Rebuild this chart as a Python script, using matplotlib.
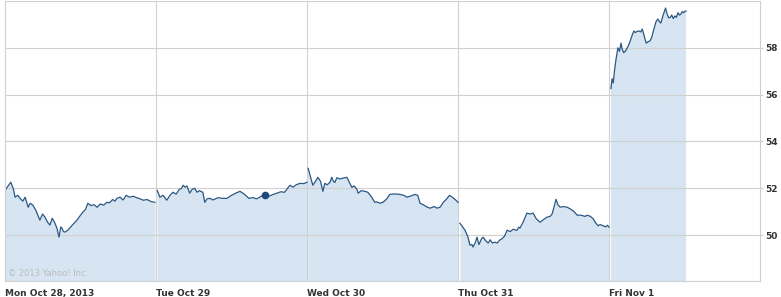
import matplotlib
matplotlib.use("Agg")
import matplotlib.pyplot as plt
import numpy as np

# --- data: minutes since 9:30 open, price ---
days = ["Mon Oct 28, 2013", "Tue Oct 29", "Wed Oct 30", "Thu Oct 31", "Fri Nov 1"]

mon_min = [0, 8, 15, 22, 26, 33, 39, 46, 52, 60, 65, 72, 80, 90, 97, 103, 110, 116, 122, 129, 134, 139.5,
           144, 147, 151, 155, 163, 175, 186, 195, 201, 208, 214, 222, 230, 238, 246, 255, 263, 270, 278, 284,
           289, 297, 305, 313, 322, 331, 340, 349, 357, 367, 378, 387]
mon_px = [51.91, 52.10, 52.26, 51.95, 51.62, 51.70, 51.57, 51.45, 51.62, 51.19, 51.36, 51.28, 51.05, 50.64,
          50.90, 50.77, 50.55, 50.43, 50.72, 50.51, 50.30, 49.91, 50.35, 50.30, 50.15, 50.13, 50.22, 50.45,
          50.64, 50.85, 50.98, 51.10, 51.36, 51.26, 51.30, 51.19, 51.33, 51.28, 51.40, 51.38, 51.52, 51.45,
          51.57, 51.62, 51.50, 51.70, 51.62, 51.66, 51.60, 51.55, 51.49, 51.52, 51.43, 51.40]

tue_min = [3, 10, 18, 28, 36, 44, 52, 60, 66, 70, 75, 80, 87, 93, 100, 106, 112, 121, 126, 132, 140, 147,
           160, 172, 183, 195, 207, 217, 228, 240, 250, 260, 268, 276, 282, 290, 300, 312, 322, 332, 340, 346,
           354, 362, 372, 382, 390]
tue_px = [51.91, 51.62, 51.70, 51.49, 51.70, 51.83, 51.75, 51.95, 52.00, 52.13, 52.05, 52.10, 51.79, 51.95,
          52.00, 51.83, 51.90, 51.83, 51.40, 51.55, 51.57, 51.50, 51.60, 51.57, 51.57, 51.70, 51.80, 51.87,
          51.75, 51.57, 51.60, 51.55, 51.62, 51.70, 51.70, 51.65, 51.72, 51.79, 51.85, 51.83, 52.00, 52.13,
          52.05, 52.15, 52.21, 52.20, 52.26]

wed_min = [3, 8, 15, 22, 28, 35, 41, 46, 52, 59, 64, 68, 72, 77, 85, 95, 103, 108, 116, 122, 129, 132, 140,
           150, 157, 166, 175, 181, 188, 196, 206, 214, 225, 240, 250, 258, 266, 279, 286, 292, 300, 310, 318,
           328, 336, 344, 352, 361, 368, 377, 384, 390]
wed_px = [52.85, 52.55, 52.13, 52.30, 52.47, 52.30, 51.87, 52.21, 52.15, 52.25, 52.47, 52.30, 52.25, 52.45,
          52.40, 52.44, 52.47, 52.30, 52.04, 52.10, 51.95, 51.79, 51.90, 51.87, 51.83, 51.65, 51.40, 51.42,
          51.36, 51.40, 51.55, 51.74, 51.76, 51.74, 51.70, 51.62, 51.66, 51.74, 51.70, 51.36, 51.30, 51.20,
          51.15, 51.22, 51.15, 51.20, 51.40, 51.55, 51.70, 51.60, 51.50, 51.40]

thu_min = [5, 12, 18, 25, 31, 36, 39, 44, 49, 54, 57, 61, 65, 72, 78, 83, 89, 95, 101, 108, 114, 120, 127,
           135, 142, 152, 157, 160, 168, 178, 186, 194, 202, 212, 220, 230, 238, 243, 248, 253, 258, 264, 272,
           282, 292, 300, 308, 318, 328, 334, 342, 349, 356, 362, 367, 375, 381, 386, 390]
thu_px = [50.51, 50.35, 50.21, 49.95, 49.57, 49.60, 49.49, 49.65, 49.91, 49.60, 49.70, 49.85, 49.91, 49.75,
          49.66, 49.80, 49.66, 49.70, 49.66, 49.79, 49.85, 49.95, 50.21, 50.15, 50.25, 50.20, 50.34, 50.30,
          50.55, 50.94, 50.90, 50.94, 50.70, 50.55, 50.65, 50.77, 50.80, 50.90, 51.20, 51.53, 51.30, 51.19,
          51.22, 51.19, 51.10, 51.00, 50.85, 50.85, 50.80, 50.85, 50.80, 50.70, 50.51, 50.40, 50.45, 50.40,
          50.35, 50.42, 50.34]

fri_min = [5, 8, 11, 14, 18, 23, 27, 31, 34, 38, 44, 50, 55, 59, 64, 68, 72, 77, 82, 86, 91, 96, 100, 106,
           110, 116, 121, 126, 131, 134, 138, 142, 146, 150, 154, 158, 162, 166, 170, 174, 178, 182, 186, 189,
           193, 197, 199]
fri_px = [56.26, 56.68, 56.50, 57.00, 57.50, 58.00, 57.85, 58.20, 57.95, 57.79, 57.90, 58.09, 58.30, 58.50,
          58.72, 58.65, 58.70, 58.72, 58.68, 58.80, 58.50, 58.20, 58.25, 58.30, 58.43, 58.80, 59.10, 59.23,
          59.10, 59.06, 59.30, 59.50, 59.70, 59.45, 59.28, 59.30, 59.40, 59.25, 59.36, 59.30, 59.50, 59.40,
          59.45, 59.55, 59.50, 59.57, 59.57]

day_minutes = [mon_min, tue_min, wed_min, thu_min, fri_min]
day_prices = [mon_px, tue_px, wed_px, thu_px, fri_px]

marker_day, marker_min, marker_px = 1, 281, 51.70
yticks = [50, 52, 54, 56, 58]

SESSION = 390.0  # minutes per trading day
LINE = "#2b5783"
FILL = "#d6e5f1"
GRID = "#d0d0d0"
TEXT = "#333333"

fig = plt.figure(figsize=(7.81, 2.97), dpi=100)
ax = fig.add_axes([5 / 781, 16 / 297, 755 / 781, 280 / 297])

for i, (mins, prices) in enumerate(zip(day_minutes, day_prices)):
    x = i + np.array(mins) / SESSION
    ax.fill_between(x, prices, 40, color=FILL, lw=0, zorder=0.2)
    ax.plot(x, prices, color=LINE, lw=0.9, zorder=2)

ax.plot(marker_day + marker_min / SESSION, marker_px, "o", color="#1d4a78", ms=4.5, zorder=3)

ax.set_xlim(0, 5)
ax.set_ylim(48.04, 60)

# grid
for y in yticks + [60]:
    ax.axhline(y, color=GRID, lw=0.8, zorder=1)
for d in range(1, 5):
    ax.axvline(d, color=GRID, lw=0.8, zorder=1)

for s in ax.spines.values():
    s.set_color(GRID)
    s.set_linewidth(0.8)
ax.spines["top"].set_visible(False)

ax.set_xticks([])
ax.yaxis.tick_right()
ax.set_yticks(yticks)
ax.set_yticklabels([str(v) for v in yticks], fontsize=6.5, fontweight="bold", color=TEXT)
ax.tick_params(axis="y", length=2, color=GRID, pad=1.5)

for i, label in enumerate(days):
    ax.text(i, -0.03, label, transform=ax.get_xaxis_transform(), ha="left", va="top",
            fontsize=6.5, fontweight="bold", color=TEXT)

ax.text(0.004, 0.012, "\u00a9 2013 Yahoo! Inc.", transform=ax.transAxes, fontsize=6,
        color="#bbbbbb", ha="left", va="bottom", zorder=4)

fig.savefig("out.png", dpi=100)
